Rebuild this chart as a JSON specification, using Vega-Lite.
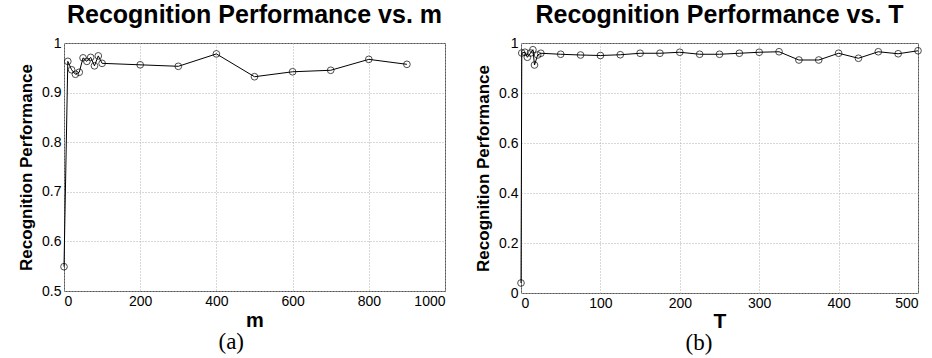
{
  "$schema": "https://vega.github.io/schema/vega-lite/v6.json",
  "background": "white",
  "padding": {"left": 17, "top": 2, "right": 2, "bottom": 2},
  "datasets": {
    "a": [
      {"m": 0, "perf": 0.549},
      {"m": 10, "perf": 0.963},
      {"m": 20, "perf": 0.946},
      {"m": 30, "perf": 0.937},
      {"m": 40, "perf": 0.941},
      {"m": 50, "perf": 0.970},
      {"m": 60, "perf": 0.963},
      {"m": 70, "perf": 0.971},
      {"m": 80, "perf": 0.954},
      {"m": 90, "perf": 0.974},
      {"m": 100, "perf": 0.959},
      {"m": 200, "perf": 0.956},
      {"m": 300, "perf": 0.953},
      {"m": 400, "perf": 0.978},
      {"m": 500, "perf": 0.932},
      {"m": 600, "perf": 0.942},
      {"m": 700, "perf": 0.945},
      {"m": 800, "perf": 0.967},
      {"m": 900, "perf": 0.957}
    ],
    "b": [
      {"T": 0, "perf": 0.04},
      {"T": 1, "perf": 0.96},
      {"T": 5, "perf": 0.963},
      {"T": 8, "perf": 0.943},
      {"T": 12, "perf": 0.96},
      {"T": 15, "perf": 0.973},
      {"T": 17, "perf": 0.912},
      {"T": 21, "perf": 0.952},
      {"T": 25, "perf": 0.959},
      {"T": 50, "perf": 0.955},
      {"T": 75, "perf": 0.952},
      {"T": 100, "perf": 0.950},
      {"T": 125, "perf": 0.953},
      {"T": 150, "perf": 0.959},
      {"T": 175, "perf": 0.959},
      {"T": 200, "perf": 0.963},
      {"T": 225, "perf": 0.955},
      {"T": 250, "perf": 0.955},
      {"T": 275, "perf": 0.959},
      {"T": 300, "perf": 0.963},
      {"T": 325, "perf": 0.965},
      {"T": 350, "perf": 0.932},
      {"T": 375, "perf": 0.932},
      {"T": 400, "perf": 0.959},
      {"T": 425, "perf": 0.939},
      {"T": 450, "perf": 0.965},
      {"T": 475, "perf": 0.957},
      {"T": 500, "perf": 0.969}
    ]
  },
  "config": {
    "font": "Liberation Sans",
    "view": {"stroke": "#555", "strokeWidth": 1},
    "axis": {
      "labelFont": "Liberation Sans",
      "labelFontSize": 14,
      "labelColor": "#000",
      "titleFont": "Liberation Sans",
      "titleFontSize": 17,
      "titleFontWeight": "bold",
      "titleColor": "#000",
      "domain": false,
      "ticks": false,
      "labelPadding": 3,
      "gridColor": "#b0b0b0",
      "gridDash": [1, 2],
      "gridWidth": 1
    },
    "title": {
      "font": "Liberation Sans",
      "fontSize": 25,
      "fontWeight": "bold",
      "color": "#000",
      "anchor": "middle",
      "offset": 8
    },
    "concat": {"spacing": 28}
  },
  "hconcat": [
    {
      "vconcat": [
        {
          "width": 381,
          "height": 248,
          "data": {"name": "a"},
          "title": "Recognition Performance vs. m",
          "layer": [
            {"mark": {"type": "line", "color": "#000", "strokeWidth": 1}},
            {"mark": {"type": "point", "shape": "circle", "filled": false, "color": "#000", "size": 45, "strokeWidth": 1}}
          ],
          "encoding": {
            "x": {"field": "m", "type": "quantitative", "scale": {"domain": [0, 1000], "nice": false}, "axis": {"values": [0, 200, 400, 600, 800, 1000], "format": "d", "title": "m", "titleFontSize": 20, "titlePadding": 2}},
            "y": {"field": "perf", "type": "quantitative", "scale": {"domain": [0.5, 1], "nice": false, "zero": false}, "axis": {"values": [0.5, 0.6, 0.7, 0.8, 0.9, 1], "format": ".1~f", "title": "Recognition Performance", "titlePadding": 6}}
          }
        }
      ],
      "title": {"text": "(a)", "orient": "bottom", "font": "Liberation Serif", "fontSize": 23, "fontWeight": "normal", "offset": 0}
    },
    {
      "vconcat": [
        {
          "width": 397,
          "height": 250,
          "data": {"name": "b"},
          "title": "Recognition Performance vs. T",
          "layer": [
            {"mark": {"type": "line", "color": "#000", "strokeWidth": 1}},
            {"mark": {"type": "point", "shape": "circle", "filled": false, "color": "#000", "size": 45, "strokeWidth": 1}}
          ],
          "encoding": {
            "x": {"field": "T", "type": "quantitative", "scale": {"domain": [0, 500], "nice": false}, "axis": {"values": [0, 100, 200, 300, 400, 500], "format": "d", "title": "T", "titleFontSize": 21, "titlePadding": 0}},
            "y": {"field": "perf", "type": "quantitative", "scale": {"domain": [0, 1], "nice": false}, "axis": {"values": [0, 0.2, 0.4, 0.6, 0.8, 1], "format": ".1~f", "title": "Recognition Performance", "titlePadding": 6}}
          }
        }
      ],
      "title": {"text": "(b)", "orient": "bottom", "font": "Liberation Serif", "fontSize": 23, "fontWeight": "normal", "offset": 0}
    }
  ]
}
